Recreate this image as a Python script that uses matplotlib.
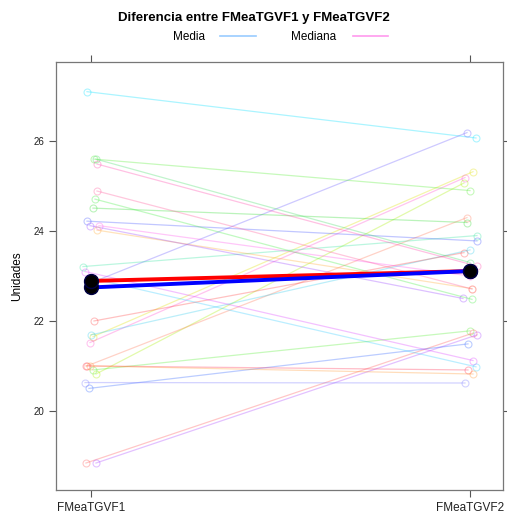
import numpy as np
import matplotlib
matplotlib.use("Agg")
import matplotlib.pyplot as plt
from matplotlib.lines import Line2D

plt.rcParams['font.family'] = ['Liberation Sans', 'DejaVu Sans']

# --- Data ---
categories = ["FMeaTGVF1", "FMeaTGVF2"]
fmea1 = [27.10, 22.83, 21.65, 21.52, 20.82, 25.60, 21.00, 24.51, 23.21, 24.22,
         21.69, 22.00, 25.60, 25.49, 24.12, 24.02, 24.89, 24.12, 24.71, 20.91,
         18.84, 18.84, 20.50, 23.10, 22.95, 21.00, 21.00, 20.63]
fmea2 = [26.07, 26.19, 25.32, 25.19, 25.07, 24.90, 24.30, 24.19, 23.90, 23.78,
         23.58, 23.52, 23.30, 23.22, 23.00, 22.72, 22.71, 22.50, 22.48, 21.78,
         21.73, 21.69, 21.49, 21.12, 20.98, 20.91, 20.82, 20.62]
subject_colors = ['#00e0ff', '#6a5cff', '#e0e000', '#ff4fd0', '#a8f000', '#55ee33',
                  '#ff7755', '#33dd33', '#33e5a0', '#4455ff', '#33ccee', '#ff4444',
                  '#44dd66', '#ff44aa', '#ff55ee', '#ffaa33', '#ff5599', '#9944ff',
                  '#44ee44', '#55ee33', '#ff5555', '#aa44ff', '#3366ff', '#dd44ff',
                  '#33ccff', '#ff3355', '#ff9933', '#7777ff']
# horizontal jitter of the points (pixels)
jitter1 = [-4, -2, 2, -1, 5, 3, -4, 2, -8, -4, 0, 3, 5, 6, 8, 6, 6, -1, 4, 2,
           -5, 5, -2, -6, 0, -5, -1, -6]
jitter2 = [6, -3, 3, -5, -6, 0, -3, -3, 7, 7, 0, -6, 0, 7, 0, 2, 2, -7, 2, 0,
           3, 7, -2, 3, 6, -2, 3, -5]

fmea1 = np.array(fmea1)
fmea2 = np.array(fmea2)
media = [fmea1.mean(), fmea2.mean()]
mediana = [np.median(fmea1), np.median(fmea2)]

px = 1 / 379.0  # one pixel in x data units

# --- Plot ---
fig = plt.figure(figsize=(5.07, 5.14), dpi=100)
ax = fig.add_axes([56 / 507, 1 - 490 / 514, 447 / 507, 428 / 514])

for a, b, c, j1, j2 in zip(fmea1, fmea2, subject_colors, jitter1, jitter2):
    ax.plot([1 + j1 * px, 2 + j2 * px], [a, b], color=c, alpha=0.33, lw=0.9,
            marker='o', markersize=5, markerfacecolor='none',
            markeredgecolor=c, markeredgewidth=0.8)

ax.plot([1, 2], mediana, color='red', lw=2.8, zorder=5)
ax.plot([1, 2], media, color='blue', lw=2.8, zorder=6)
ax.plot([1, 1, 2, 2], [media[0], mediana[0], media[1], mediana[1]], 'o',
        color='black', markersize=10, markeredgecolor='#000044', zorder=7, ls='none')

ax.set_xlim(1 - 35 * px, 2 + 33 * px)
ax.set_ylim(18.24, 27.76)
ax.set_xticks([1, 2])
ax.set_xticklabels(categories)
ax.set_yticks([20, 22, 24, 26])
ax.tick_params(direction='out', length=5, width=0.8, color='#555555',
               labelsize=7, labelcolor='#222222', top=True, right=True,
               labeltop=False, labelright=False)
ax.tick_params(axis='x', labelsize=8.5)
for s in ax.spines.values():
    s.set_color('#777777')
    s.set_linewidth(0.9)
ax.set_ylabel("Unidades", fontsize=8.5, labelpad=7)

fig.text(0.5, 1 - 18 / 514, "Diferencia entre FMeaTGVF1 y FMeaTGVF2",
         ha='center', va='center', fontsize=9.5, fontweight='bold')
fig.text(189 / 507, 1 - 37 / 514, "Media", ha='center', va='center', fontsize=8.5)
fig.text(314 / 507, 1 - 37 / 514, "Mediana", ha='center', va='center', fontsize=8.5)
fig.add_artist(Line2D([220 / 507, 256 / 507], [1 - 36 / 514] * 2,
                      transform=fig.transFigure, color='#99ccff', lw=1.2))
fig.add_artist(Line2D([353 / 507, 388 / 507], [1 - 36 / 514] * 2,
                      transform=fig.transFigure, color='#ff99ee', lw=1.2))

fig.savefig("out.png", dpi=100)
